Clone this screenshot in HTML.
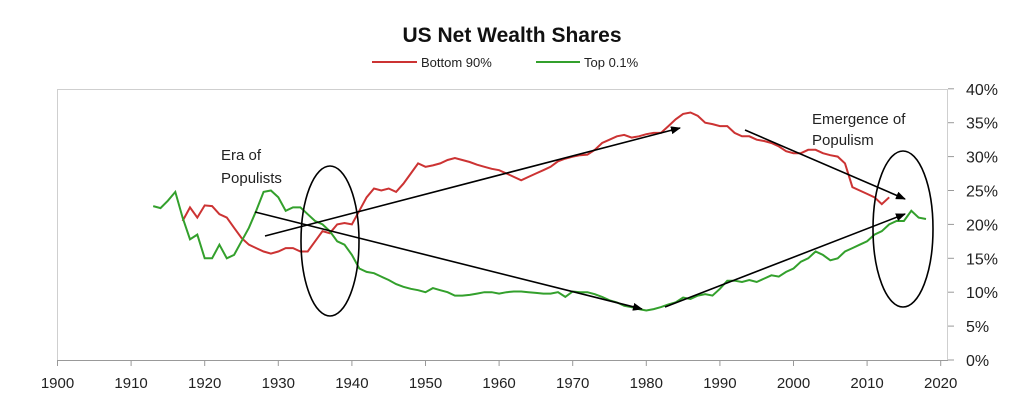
<!DOCTYPE html>
<html><head><meta charset="utf-8"><style>
body{margin:0;background:#fff;}
svg{display:block;font-family:"Liberation Sans",sans-serif;}
</style></head><body>
<svg id="s" width="1024" height="418" viewBox="0 0 1024 418">
<text x="512" y="42" text-anchor="middle" font-size="21" font-weight="bold" fill="#111">US Net Wealth Shares</text>
<line x1="372" y1="62" x2="417" y2="62" stroke="#cc3333" stroke-width="2"/>
<text x="421" y="67" font-size="13" fill="#222">Bottom 90%</text>
<line x1="536" y1="62" x2="580" y2="62" stroke="#33a02c" stroke-width="2"/>
<text x="584" y="67" font-size="13" fill="#222">Top 0.1%</text>
<rect x="57.5" y="89.5" width="890" height="271" fill="none" stroke="#cfcfcf"/>
<line x1="57" y1="360.5" x2="948" y2="360.5" stroke="#999"/>
<g id="ax"></g>
<g id="ser"></g>
<defs><marker id="ar" markerWidth="10" markerHeight="8" refX="9" refY="4" orient="auto" markerUnits="userSpaceOnUse"><path d="M0,0 L10,4 L0,8 z" fill="#000"/></marker></defs>
<g stroke="#000" stroke-width="1.6" marker-end="url(#ar)">
<line x1="265" y1="236" x2="680" y2="128"/>
<line x1="255" y1="212" x2="642" y2="309"/>
<line x1="745" y1="130" x2="905" y2="199"/>
<line x1="665" y1="307" x2="905" y2="214"/>
</g>
<g fill="none" stroke="#000" stroke-width="1.6">
<ellipse cx="330" cy="241" rx="29" ry="75"/>
<ellipse cx="903" cy="229" rx="30" ry="78"/>
</g>
<g font-size="15" fill="#222">
<text x="221" y="160">Era of</text>
<text x="221" y="183">Populists</text>
<text x="812" y="124">Emergence of</text>
<text x="812" y="145">Populism</text>
</g>
</svg>
<script>
var X=function(y){return 57.5+(y-1900)*7.36;},Y=function(v){return 360-6.78*v;};
var ax=document.getElementById('ax'),h='';
for(var d=0;d<=12;d++){var x=X(1900+10*d);h+='<line x1="'+x+'" y1="360" x2="'+x+'" y2="366" stroke="#999"/><text x="'+x+'" y="388" text-anchor="middle" font-size="15" fill="#222">'+(1900+10*d)+'</text>';}
for(var p=0;p<=8;p++){var y=Y(p*5);h+='<line x1="948" y1="'+y+'" x2="954" y2="'+y+'" stroke="#999"/><text x="966" y="'+(y+6)+'" font-size="16" fill="#222">'+(p*5)+'%</text>';}
ax.innerHTML=h;
var red=[20.5,22.5,21,22.8,22.7,21.5,21,19.5,18,17,16.5,16,15.7,16,16.5,16.5,16,16,17.5,19,18.7,20,20.2,20,22,24,25.3,25,25.3,24.8,26,27.5,29,28.5,28.7,29,29.5,29.8,29.5,29.2,28.8,28.5,28.2,28,27.5,27,26.5,27,27.5,28,28.5,29.3,29.7,30,30.2,30.3,31,32,32.5,33,33.2,32.8,33,33.3,33.5,33.5,34.5,35.5,36.3,36.5,36,35,34.8,34.5,34.5,33.5,33,33,32.5,32.3,32,31.5,30.8,30.5,30.5,31,31,30.5,30.2,30,29,25.5,25,24.5,24,23,24];
var grn=[22.7,22.4,23.5,24.8,21,17.8,18.5,15,15,17,15,15.5,17.5,19.5,22,24.8,25,24,22,22.5,22.5,21.5,20.5,20,19,17.5,17,15.5,13.5,13,12.8,12.3,11.8,11.2,10.8,10.5,10.3,10,10.6,10.3,10,9.5,9.5,9.6,9.8,10,10,9.8,10,10.1,10.1,10,9.9,9.8,9.8,10,9.3,10.1,10,10,9.7,9.3,8.8,8.5,8,7.8,7.5,7.3,7.5,7.8,8.2,8.5,9.2,9,9.5,9.7,9.5,10.5,11.7,11.7,11.5,11.8,11.5,12,12.5,12.3,13,13.5,14.5,15,16,15.5,14.7,15,16,16.5,17,17.5,18.5,19,20,20.5,20.5,22,21,20.8];
function pl(a,y0,c){var s='';for(var i=0;i<a.length;i++)s+=X(y0+i).toFixed(1)+','+Y(a[i]).toFixed(1)+' ';return '<polyline points="'+s+'" fill="none" stroke="'+c+'" stroke-width="2"/>';}
document.getElementById('ser').innerHTML=pl(red,1917,'#cc3333')+pl(grn,1913,'#33a02c');
</script>
</body></html>
